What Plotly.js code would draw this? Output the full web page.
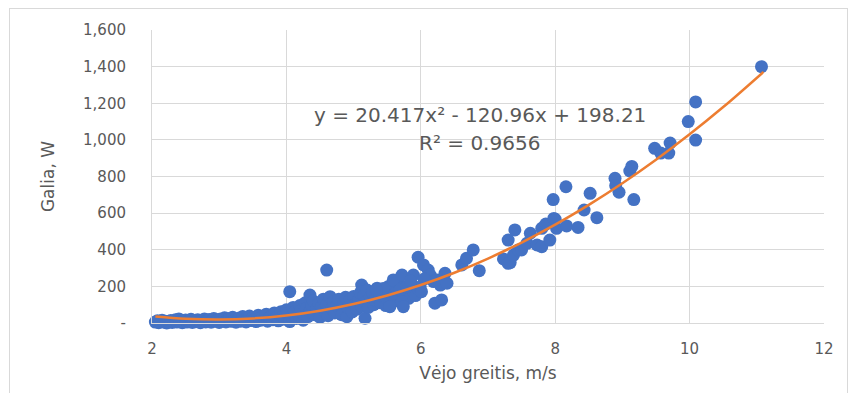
<!DOCTYPE html>
<html>
<head>
<meta charset="utf-8">
<script src="https://cdn.plot.ly/plotly-3.0.1.min.js"></script>
<style>
  html, body { margin: 0; padding: 0; background: #ffffff; }
  #wrap { position: relative; width: 854px; height: 393px; }
  #frame { position: absolute; left: 9px; top: 8px; width: 839px; height: 390px; border: 1px solid #D9D9D9; box-sizing: border-box; pointer-events: none; }
  #chart { position: absolute; left: 0; top: 0; width: 854px; height: 393px; }
</style>
</head>
<body>
<div id="wrap">
  <div id="chart"></div>
  <div id="frame"></div>
</div>
<script>
// Measured points: wind speed (m/s) and power (W)
const windSpeed = [
  2.05,2.08,2.10,2.12,2.15,2.18,2.20,2.22,2.25,2.28,2.30,2.32,2.35,2.37,2.40,2.42,2.45,2.47,2.50,2.52,
  2.55,2.58,2.60,2.62,2.65,2.68,2.70,2.72,2.75,2.78,2.80,2.82,2.85,2.88,2.90,2.92,2.95,2.98,3.00,3.02,
  3.05,3.08,3.10,3.12,3.15,3.18,3.20,3.22,3.25,3.28,3.30,3.32,3.35,3.38,3.40,3.42,3.45,3.48,3.50,3.52,
  3.55,3.58,3.60,3.62,3.65,3.68,3.70,3.72,3.75,3.78,3.80,3.82,3.85,3.88,3.90,3.92,3.95,3.98,4.00,4.02,
  4.05,4.05,4.08,4.10,4.12,4.15,4.18,4.20,4.22,4.25,4.25,4.28,4.30,4.32,4.35,4.35,4.38,4.40,4.42,4.45,
  4.48,4.50,4.52,4.55,4.58,4.60,4.60,4.62,4.65,4.68,4.70,4.72,4.75,4.78,4.80,4.82,4.85,4.88,4.90,4.92,
  4.95,4.98,5.00,5.02,5.05,5.08,5.10,5.12,5.12,5.15,5.17,5.18,5.20,5.22,5.25,5.28,5.30,5.32,5.35,5.39,
  5.40,5.45,5.48,5.50,5.52,5.54,5.58,5.62,5.66,5.70,5.76,5.82,5.88,5.92,
  5.44,5.34,5.54,5.59,5.62,5.69,5.72,5.72,5.74,5.79,5.89,5.96,5.96,5.99,6.01,6.04,6.11,6.14,6.19,6.24,
  6.21,6.29,6.31,6.36,6.39,5.85,6.05,
  6.61,6.68,6.78,6.87,7.23,7.30,7.33,7.38,7.45,7.30,7.40,7.50,7.58,7.63,7.73,7.80,7.80,7.86,7.92,7.98,
  7.97,8.00,8.02,
  8.16,8.17,8.34,8.43,8.52,8.62,8.89,8.90,8.95,9.11,9.14,9.17,9.48,9.57,9.69,9.71,9.98,10.09,10.09,11.07
];
const power = [
  5,12,2,8,15,4,10,0,6,14,3,9,18,5,22,8,2,12,16,5,
  10,20,3,13,7,18,11,2,15,22,6,12,19,4,14,25,9,17,3,22,
  11,28,6,16,24,9,31,14,4,20,27,10,35,17,6,25,38,13,30,20,
  8,42,26,15,35,22,48,10,30,40,18,55,28,12,45,62,34,20,72,50,
  171,8,38,85,60,25,45,95,70,15,52,110,80,35,153,60,95,120,45,75,
  105,30,88,130,60,289,100,40,144,80,115,55,95,130,70,45,110,140,34,85,
  125,60,145,100,75,130,165,207,90,150,26,115,180,85,140,165,100,125,190,144,
  110,160,95,130,200,107,150,120,215,140,160,135,175,150,
  189,180,89,235,162,180,262,116,89,198,262,359,189,198,171,317,289,262,226,235,
  108,207,126,271,217,230,240,
  317,353,399,286,350,326,330,371,399,453,508,399,435,490,426,417,517,540,453,571,
  674,566,517,
  744,530,522,617,708,575,790,750,714,830,855,674,954,928,928,983,1100,1207,999,1400
];

// Trendline values (as drawn by the chart's polynomial fit)
const trendX = [2.05, 2.5, 3, 3.5, 4, 4.5, 5, 5.5, 6, 6.5, 7, 7.5, 8, 8.5, 9, 9.5, 10, 10.5, 11.1];
const trendY = [36.04, 23.42, 19.08, 24.96, 41.04, 67.33, 103.84, 150.54, 207.46, 274.59, 351.92, 439.47, 537.22, 645.18, 763.35, 891.72, 1030.31, 1179.10, 1371.13];

const xTickVals = [2, 4, 6, 8, 10, 12];
const yTickVals = [0, 200, 400, 600, 800, 1000, 1200, 1400, 1600];
const yTickText = ['-', '200', '400', '600', '800', '1,000', '1,200', '1,400', '1,600'];

const equationText = 'y = 20.417x² - 120.96x + 198.21';
const rSquaredText = 'R² = 0.9656';
const xTitle = 'Vėjo greitis, m/s';
const yTitle = 'Galia, W';

const fontFam = 'DejaVu Sans, sans-serif';
const txtColor = '#595959';
const gridColor = '#D9D9D9';

const traces = [
  {
    type: 'scatter', mode: 'markers',
    x: windSpeed, y: power,
    marker: { color: '#4472C4', size: 13, line: { width: 0 } },
    cliponaxis: false,
    hoverinfo: 'x+y'
  },
  {
    type: 'scatter', mode: 'lines',
    x: trendX, y: trendY,
    line: { color: '#ED7D31', width: 2.5, shape: 'spline' },
    cliponaxis: false,
    hoverinfo: 'skip'
  }
];

const layout = {
  width: 854, height: 393,
  margin: { l: 152, r: 30, t: 30, b: 70, pad: 0 },
  paper_bgcolor: '#ffffff', plot_bgcolor: '#ffffff',
  showlegend: false,
  font: { family: fontFam, color: txtColor, size: 15 },
  xaxis: {
    range: [2, 12], tickvals: xTickVals,
    showgrid: true, gridcolor: gridColor, gridwidth: 1,
    zeroline: false, showline: true, linecolor: gridColor, linewidth: 1,
    ticks: '', ticklabelstandoff: 12,
    tickfont: { family: fontFam, size: 15, color: txtColor },
    title: { text: xTitle, font: { family: fontFam, size: 17, color: txtColor }, standoff: 10 },
    automargin: true, mirror: false
  },
  yaxis: {
    range: [0, 1600], tickvals: yTickVals, ticktext: yTickText,
    showgrid: true, gridcolor: gridColor, gridwidth: 1,
    zeroline: false, showline: true, linecolor: gridColor, linewidth: 1,
    ticks: '', ticklabelstandoff: 22,
    tickfont: { family: fontFam, size: 15, color: txtColor },
    title: { text: yTitle, font: { family: fontFam, size: 17, color: txtColor }, standoff: 24 },
    automargin: true
  },
  annotations: [
    { xref: 'paper', yref: 'paper', x: 0.488, y: 0.71, text: equationText, showarrow: false,
      font: { family: fontFam, size: 20, color: txtColor }, xanchor: 'center', yanchor: 'middle' },
    { xref: 'paper', yref: 'paper', x: 0.488, y: 0.615, text: rSquaredText, showarrow: false,
      font: { family: fontFam, size: 20, color: txtColor }, xanchor: 'center', yanchor: 'middle' }
  ]
};

Plotly.newPlot('chart', traces, layout, { displayModeBar: false, staticPlot: true });
</script>
</body>
</html>
